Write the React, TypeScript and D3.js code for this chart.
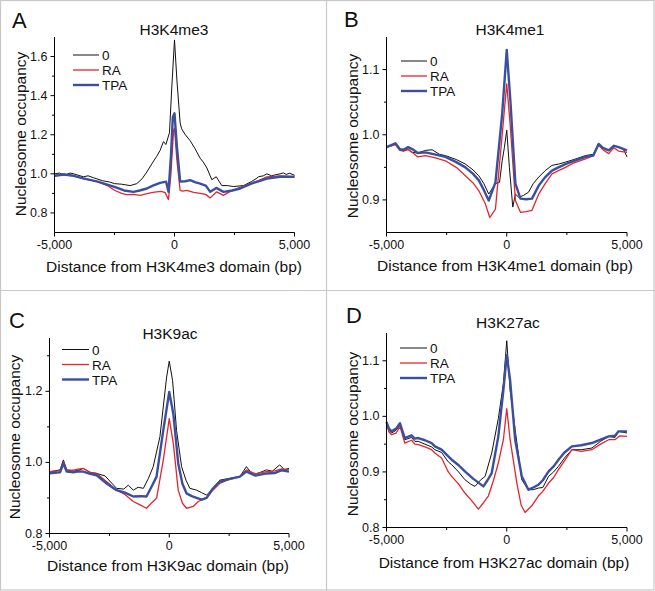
import React from "react";
import * as d3 from "d3";

type P = [number, number];

const seriesNames = ["0", "RA", "TPA"];
const seriesColors = ["#111111", "#e3262b", "#3b4f9f"];
const seriesWidths = [1, 1.3, 2.4];

const titles = ["H3K4me3", "H3K4me1", "H3K9ac", "H3K27ac"];
const letters = ["A", "B", "C", "D"];
const xTickValues = [-5000, 0, 5000];
const xMinorTicks = [-2500, 2500];
const yDomains: P[] = [[0.7, 1.7], [0.85, 1.15], [0.8, 1.35], [0.8, 1.15]];
const yMajorTicks = [[0.8, 1.0, 1.2, 1.4, 1.6], [0.9, 1.0, 1.1], [0.8, 1.0, 1.2], [0.8, 0.9, 1.0, 1.1]];
const yMinorTicks = [[0.9, 1.1, 1.3, 1.5], [0.95, 1.05], [0.9, 1.1, 1.3], [0.85, 0.95, 1.05]];
const yTickFormats = [".1f", ".1f", ".1f", ".1f"];

const A_zero: P[] = [[-5000,1.0],[-4800,1.004],[-4700,1.0],[-4500,0.997],[-4350,1.004],[-4200,1.0],[-3800,0.985],[-3600,0.99],[-3375,0.98],[-3000,0.965],[-2700,0.958],[-2500,0.95],[-2200,0.947],[-1850,0.94],[-1570,0.95],[-1350,0.975],[-1150,1.01],[-950,1.05],[-740,1.09],[-600,1.12],[-460,1.165],[-360,1.15],[-210,1.21],[-110,1.45],[0,1.685],[100,1.48],[235,1.26],[300,1.23],[450,1.2],[650,1.17],[850,1.13],[1070,1.08],[1200,1.06],[1350,1.03],[1555,0.97],[1740,0.985],[1970,0.94],[2200,0.94],[2460,0.935],[2875,0.94],[3200,0.96],[3400,0.975],[3500,0.985],[3700,0.99],[3850,1.0],[4050,0.99],[4200,0.995],[4400,1.0],[4540,1.005],[4650,0.997],[4800,1.003],[5000,0.993]];
const A_RA: P[] = [[-5000,0.99],[-4600,0.995],[-4200,0.99],[-3800,0.976],[-3200,0.96],[-2800,0.94],[-2500,0.916],[-2200,0.9],[-2000,0.894],[-1700,0.895],[-1430,0.89],[-1100,0.9],[-900,0.905],[-740,0.908],[-550,0.91],[-390,0.904],[-250,0.868],[-150,1.0],[-40,1.22],[0,1.233],[100,1.07],[235,0.916],[350,0.912],[510,0.916],[800,0.905],[1070,0.9],[1300,0.895],[1490,0.877],[1760,0.908],[2040,0.89],[2250,0.905],[2460,0.916],[2800,0.935],[3150,0.95],[3500,0.965],[3850,0.985],[4400,0.99],[5000,0.985]];
const A_TPA: P[] = [[-5000,0.99],[-4600,0.997],[-4200,0.99],[-3800,0.977],[-3200,0.96],[-2800,0.945],[-2500,0.933],[-2100,0.915],[-1710,0.908],[-1450,0.915],[-1150,0.925],[-900,0.94],[-600,0.954],[-350,0.96],[-250,0.908],[-150,1.087],[-70,1.29],[0,1.31],[100,1.14],[235,0.96],[450,0.962],[650,0.968],[850,0.958],[1070,0.95],[1300,0.94],[1490,0.908],[1740,0.928],[2040,0.908],[2400,0.915],[2740,0.925],[3200,0.95],[3500,0.962],[3850,0.976],[4400,0.985],[5000,0.985]];

const B_zero: P[] = [[-5000,0.981],[-4800,0.984],[-4630,0.986],[-4450,0.978],[-4300,0.975],[-4100,0.978],[-3930,0.973],[-3700,0.972],[-3380,0.976],[-3100,0.977],[-2800,0.97],[-2550,0.968],[-2100,0.962],[-1720,0.955],[-1400,0.946],[-1160,0.937],[-950,0.925],[-750,0.909],[-470,0.925],[-300,0.927],[-190,0.96],[-100,0.98],[0,1.007],[110,0.95],[250,0.889],[360,0.909],[500,0.904],[700,0.907],[910,0.912],[1100,0.925],[1330,0.935],[1600,0.945],[1880,0.953],[2150,0.955],[2440,0.958],[2800,0.962],[3270,0.968],[3600,0.97],[3820,0.986],[4000,0.98],[4240,0.976],[4450,0.984],[4650,0.981],[4850,0.978],[5000,0.966]];
const B_RA: P[] = [[-5000,0.981],[-4800,0.983],[-4630,0.985],[-4450,0.976],[-4300,0.975],[-4100,0.977],[-3930,0.973],[-3700,0.966],[-3380,0.968],[-3000,0.965],[-2550,0.96],[-2100,0.95],[-1720,0.937],[-1400,0.926],[-1160,0.914],[-890,0.894],[-705,0.873],[-470,0.886],[-190,1.0],[0,1.078],[150,1.012],[360,0.899],[570,0.881],[800,0.882],[1050,0.884],[1330,0.909],[1600,0.925],[1880,0.94],[2150,0.945],[2440,0.95],[2800,0.957],[3270,0.963],[3600,0.968],[3820,0.984],[4000,0.977],[4240,0.971],[4450,0.98],[4650,0.975],[5000,0.973]];
const B_TPA: P[] = [[-5000,0.981],[-4800,0.984],[-4630,0.987],[-4450,0.978],[-4300,0.977],[-4100,0.981],[-3930,0.978],[-3700,0.972],[-3380,0.973],[-3000,0.97],[-2550,0.966],[-2100,0.958],[-1720,0.95],[-1400,0.94],[-1160,0.93],[-950,0.915],[-750,0.899],[-470,0.927],[-190,1.032],[0,1.13],[150,1.053],[360,0.925],[570,0.902],[800,0.901],[1050,0.902],[1330,0.922],[1600,0.935],[1880,0.945],[2150,0.95],[2440,0.955],[2800,0.96],[3270,0.966],[3600,0.968],[3820,0.986],[4000,0.98],[4240,0.976],[4450,0.983],[4650,0.981],[5000,0.976]];

const C_zero: P[] = [[-5000,0.974],[-4800,0.976],[-4560,0.979],[-4420,1.007],[-4280,0.979],[-4000,0.975],[-3800,0.978],[-3590,0.983],[-3300,0.972],[-3030,0.969],[-2680,0.962],[-2450,0.945],[-2200,0.927],[-1900,0.925],[-1710,0.936],[-1500,0.922],[-1300,0.93],[-1080,0.927],[-870,0.955],[-670,0.988],[-390,1.072],[-110,1.24],[0,1.285],[140,1.23],[305,1.09],[515,0.988],[700,0.95],[860,0.927],[1140,0.922],[1350,0.915],[1560,0.908],[1800,0.925],[2110,0.95],[2500,0.955],[2950,0.96],[3220,0.988],[3500,0.965],[3800,0.972],[4060,0.979],[4300,0.975],[4610,0.993],[4800,0.98],[5000,0.983]];
const C_RA: P[] = [[-5000,0.974],[-4800,0.975],[-4560,0.976],[-4420,1.002],[-4280,0.979],[-4000,0.978],[-3800,0.981],[-3590,0.983],[-3300,0.972],[-3030,0.969],[-2600,0.945],[-2200,0.922],[-1850,0.91],[-1500,0.89],[-1200,0.88],[-950,0.871],[-750,0.885],[-530,0.899],[-250,1.0065],[0,1.123],[170,1.053],[375,0.922],[550,0.885],[720,0.871],[1000,0.876],[1210,0.89],[1560,0.9],[1800,0.92],[2110,0.941],[2500,0.952],[2950,0.96],[3220,0.979],[3600,0.968],[4060,0.974],[4400,0.976],[4700,0.982],[5000,0.979]];
const C_TPA: P[] = [[-5000,0.969],[-4800,0.971],[-4560,0.972],[-4420,0.997],[-4280,0.974],[-4000,0.972],[-3800,0.975],[-3590,0.974],[-3300,0.968],[-3030,0.964],[-2600,0.94],[-2200,0.922],[-1850,0.915],[-1500,0.904],[-1200,0.905],[-950,0.904],[-750,0.93],[-530,0.96],[-250,1.09],[0,1.198],[170,1.137],[375,0.997],[550,0.94],[720,0.913],[940,0.905],[1140,0.9],[1350,0.895],[1560,0.9],[1800,0.925],[2110,0.946],[2500,0.953],[2950,0.96],[3220,0.974],[3600,0.963],[4060,0.969],[4400,0.97],[4700,0.978],[5000,0.974]];

const D_zero: P[] = [[-5000,0.9875],[-4900,0.975],[-4790,0.97],[-4600,0.975],[-4440,0.985],[-4240,0.958],[-3960,0.962],[-3820,0.955],[-3680,0.955],[-3400,0.95],[-3125,0.945],[-2990,0.94],[-2710,0.935],[-2430,0.918],[-2290,0.913],[-2000,0.9],[-1740,0.886],[-1500,0.878],[-1320,0.874],[-1100,0.885],[-900,0.892],[-625,0.934],[-350,0.996],[-140,1.059],[0,1.136],[140,1.047],[350,0.976],[625,0.886],[900,0.868],[1100,0.868],[1320,0.871],[1500,0.872],[1740,0.892],[1950,0.9],[2150,0.91],[2400,0.925],[2710,0.94],[3100,0.94],[3540,0.943],[3900,0.955],[4240,0.964],[4500,0.962],[4650,0.973],[5000,0.97]];
const D_RA: P[] = [[-5000,0.9875],[-4900,0.972],[-4790,0.967],[-4600,0.97],[-4440,0.982],[-4240,0.952],[-3960,0.957],[-3820,0.95],[-3680,0.949],[-3400,0.945],[-3125,0.94],[-2990,0.934],[-2710,0.925],[-2430,0.9],[-2290,0.892],[-2000,0.878],[-1740,0.862],[-1450,0.848],[-1180,0.833],[-960,0.845],[-760,0.857],[-550,0.885],[-350,0.916],[-140,0.958],[0,1.014],[140,0.958],[420,0.88],[600,0.84],[760,0.827],[1040,0.839],[1320,0.857],[1500,0.865],[1740,0.88],[1950,0.89],[2150,0.904],[2400,0.92],[2710,0.94],[3100,0.937],[3540,0.94],[3900,0.95],[4240,0.958],[4500,0.958],[4700,0.965],[5000,0.964]];
const D_TPA: P[] = [[-5000,0.99],[-4900,0.978],[-4790,0.973],[-4600,0.978],[-4440,0.9875],[-4240,0.961],[-3960,0.966],[-3820,0.96],[-3680,0.961],[-3400,0.957],[-3125,0.952],[-2990,0.946],[-2710,0.94],[-2430,0.928],[-2290,0.922],[-2000,0.912],[-1740,0.901],[-1400,0.888],[-970,0.874],[-800,0.885],[-625,0.898],[-350,0.964],[-140,1.047],[0,1.11],[140,1.065],[350,0.958],[625,0.892],[900,0.868],[1100,0.872],[1320,0.877],[1500,0.885],[1740,0.901],[1950,0.91],[2150,0.922],[2400,0.935],[2710,0.946],[3100,0.948],[3540,0.952],[3900,0.958],[4240,0.964],[4500,0.965],[4650,0.973],[5000,0.973]];

const panelData: P[][][] = [
  [A_zero, A_RA, A_TPA],
  [B_zero, B_RA, B_TPA],
  [C_zero, C_RA, C_TPA],
  [D_zero, D_RA, D_TPA],
];

// layout (pixel geometry)
const layouts = [
  { x0: 54.5, x1: 294.5, yT: 37, yB: 232.5, title: [174, 35], letter: [12, 28], legend: [73, 99, 55, 15], ylab: [26, 134], xlab: [174, 272] },
  { x0: 386.5, x1: 627, yT: 37, yB: 232.5, title: [510, 35], letter: [344, 27], legend: [401, 427, 61, 15], ylab: [358, 136], xlab: [505, 271] },
  { x0: 49.5, x1: 289, yT: 338, yB: 533.5, title: [170, 339], letter: [9, 328], legend: [62, 89, 349.5, 15], ylab: [20, 437], xlab: [168, 571] },
  { x0: 386.5, x1: 627, yT: 333, yB: 527.5, title: [508, 328], letter: [346, 323], legend: [400, 427, 348, 15], ylab: [358, 434], xlab: [504, 568] },
];

const FONT = "'Liberation Sans', Arial, Helvetica, sans-serif";

function Panel({ i }: { i: number }) {
  const L = layouts[i];
  const x = d3.scaleLinear().domain([-5000, 5000]).range([L.x0, L.x1]);
  const y = d3.scaleLinear().domain(yDomains[i]).range([L.yB, L.yT]);
  const line = d3.line<P>().x((d) => x(d[0])).y((d) => y(d[1]));
  const fmtX = d3.format(",");
  const fmtY = d3.format(yTickFormats[i]);
  return (
    <g fontFamily={FONT} fill="#111">
      <text x={L.letter[0]} y={L.letter[1]} fontSize={22}>{letters[i]}</text>
      <text x={L.title[0]} y={L.title[1]} fontSize={15.5} textAnchor="middle">{titles[i]}</text>
      {panelData[i].map((s, k) => (
        <path key={k} d={line(s) || ""} fill="none" stroke={seriesColors[k]} strokeWidth={seriesWidths[k]} strokeLinejoin="round" />
      ))}
      <line x1={L.x0} x2={L.x0} y1={L.yT} y2={L.yB} stroke="#000" strokeWidth={1} />
      <line x1={L.x0} x2={L.x1} y1={L.yB} y2={L.yB} stroke="#000" strokeWidth={1} />
      {xTickValues.map((t) => (
        <g key={"xt" + t}>
          <line x1={x(t)} x2={x(t)} y1={L.yB} y2={L.yB + 4} stroke="#000" />
          <text x={x(t)} y={L.yB + 16.5} fontSize={12.5} textAnchor="middle">{fmtX(t).replace("−", "-")}</text>
        </g>
      ))}
      {xMinorTicks.map((t) => (
        <line key={"xm" + t} x1={x(t)} x2={x(t)} y1={L.yB} y2={L.yB + 2.5} stroke="#000" />
      ))}
      {yMajorTicks[i].map((t) => (
        <g key={"yt" + t}>
          <line x1={L.x0 - 4} x2={L.x0} y1={y(t)} y2={y(t)} stroke="#000" />
          <text x={L.x0 - 7} y={y(t) + 4} fontSize={12.5} textAnchor="end">{fmtY(t)}</text>
        </g>
      ))}
      {yMinorTicks[i].map((t) => (
        <line key={"ym" + t} x1={L.x0 - 2.5} x2={L.x0} y1={y(t)} y2={y(t)} stroke="#000" />
      ))}
      <text transform={`translate(${L.ylab[0]},${L.ylab[1]}) rotate(-90)`} fontSize={15.5} textAnchor="middle">Nucleosome occupancy</text>
      <text x={L.xlab[0]} y={L.xlab[1]} fontSize={15.5} textAnchor="middle">{`Distance from ${titles[i]} domain (bp)`}</text>
      {seriesNames.map((n, k) => {
        const yy = L.legend[2] + k * L.legend[3];
        return (
          <g key={"lg" + k}>
            <line x1={L.legend[0]} x2={L.legend[1]} y1={yy} y2={yy} stroke={seriesColors[k]} strokeWidth={seriesWidths[k]} />
            <text x={L.legend[1] + 3} y={yy + 5} fontSize={13.5}>{n}</text>
          </g>
        );
      })}
    </g>
  );
}

export default function App() {
  return (
    <svg width={655} height={591} style={{ position: "absolute", left: 0, top: 0, background: "#fff" }}>
      <rect x={0} y={0} width={655} height={591} fill="#fff" />
      <rect x={0.5} y={0.5} width={653.5} height={589.5} fill="none" stroke="#c8c8c8" strokeWidth={1.2} />
      <line x1={326.5} x2={326.5} y1={0} y2={591} stroke="#c8c8c8" strokeWidth={1.2} />
      <line x1={0} x2={655} y1={290.5} y2={290.5} stroke="#c8c8c8" strokeWidth={1.2} />
      {[0, 1, 2, 3].map((i) => <Panel key={i} i={i} />)}
    </svg>
  );
}
